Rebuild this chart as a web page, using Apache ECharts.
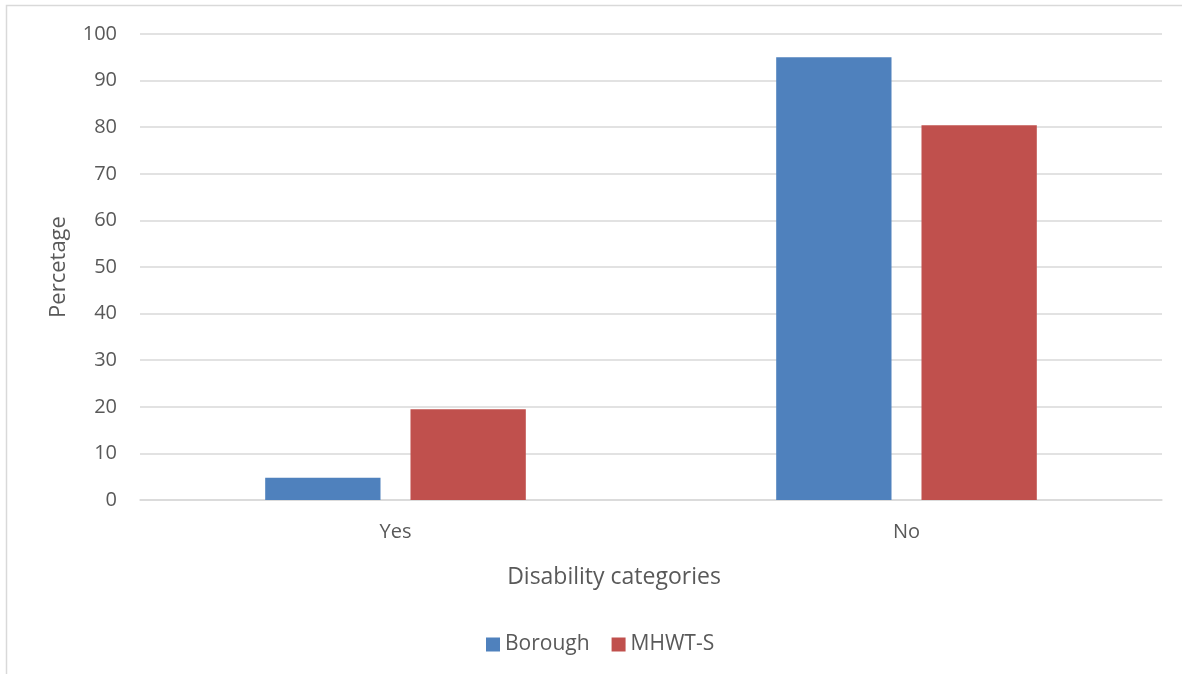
<!DOCTYPE html>
<html><head><meta charset="utf-8">
<script src="https://cdn.jsdelivr.net/npm/echarts@6/dist/echarts.min.js"></script>
<style>html,body{margin:0;padding:0;background:#fff}#c{width:1182px;height:674px}</style>
</head><body><div id="c"></div>
<script>
const categories = ['Yes', 'No'];
const borough = [4.8, 95.0];
const mhwts = [19.5, 80.4];
const seriesNames = ['Borough', 'MHWT-S'];
const font = '"Open Sans", "Noto Sans", sans-serif';
const chart = echarts.init(document.getElementById('c'));
chart.setOption({
  animation: false,
  backgroundColor: '#fff',
  graphic: [{type: 'rect', shape: {x: 6.5, y: 5.5, width: 1300, height: 800}, style: {fill: 'none', stroke: '#d9d9d9', lineWidth: 1.5}, silent: true}],
  grid: {left: 140, right: 20, top: 34, bottom: 174},
  legend: {top: 629, left: 481, itemWidth: 14, itemHeight: 14, itemGap: 22,
    icon: 'rect', textStyle: {fontFamily: font, fontSize: 21, color: '#595959'}, data: seriesNames},
  xAxis: {type: 'category', data: categories,
    name: 'Disability categories', nameLocation: 'middle', nameGap: 77,
    nameTextStyle: {fontFamily: font, fontSize: 23, color: '#595959', verticalAlign: 'middle', lineHeight: 0, padding: [0, 74, 0, 0]},
    axisLine: {lineStyle: {color: '#d9d9d9', width: 1.5}}, axisTick: {show: false},
    axisLabel: {fontFamily: font, fontSize: 20, color: '#595959', margin: 22}},
  yAxis: {type: 'value', min: 0, max: 100, interval: 10,
    name: 'Percetage', nameLocation: 'middle', nameGap: 70, nameRotate: 90,
    nameTextStyle: {fontFamily: font, fontSize: 22, color: '#595959'},
    axisLine: {show: false}, axisTick: {show: false},
    splitLine: {lineStyle: {color: '#d9d9d9', width: 1.5}},
    axisLabel: {fontFamily: font, fontSize: 20, color: '#595959', margin: 23}},
  series: [
    {name: seriesNames[0], type: 'bar', data: borough, barGap: '26%', barCategoryGap: '49%',
      itemStyle: {color: '#4f81bd'}},
    {name: seriesNames[1], type: 'bar', data: mhwts, barGap: '26%', barCategoryGap: '49%',
      itemStyle: {color: '#c0504d'}}
  ]
});
</script></body></html>
